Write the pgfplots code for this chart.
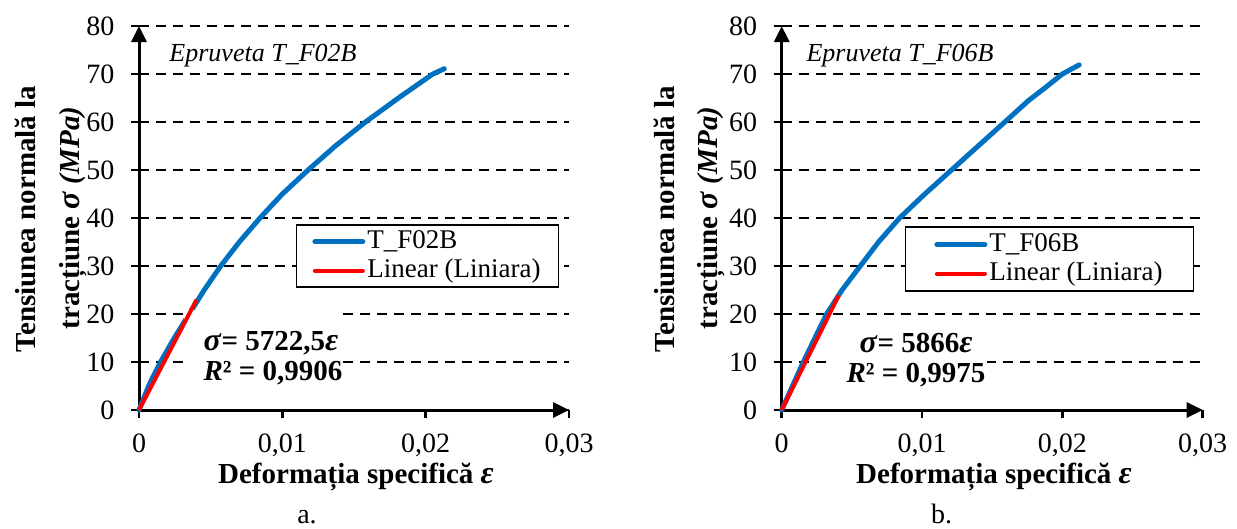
\documentclass[border=0pt]{standalone}
\usepackage{fontspec}
\setmainfont{Liberation Serif}
\usepackage{pgfplots}
\pgfplotsset{compat=1.18}
\usetikzlibrary{arrows.meta}
\definecolor{xblue}{RGB}{0,112,192}
\definecolor{xred}{RGB}{255,0,0}
\newcommand{\gs}{\fontsize{32}{32}\selectfont}
\pgfplotsset{
 myaxis/.style={
  scale only axis, axis lines=left, enlargelimits=false, clip=false,
  xmin=0,xmax=0.03,ymin=0,ymax=80,
  xtick={0,0.01,0.02,0.03}, xticklabels={0,{0,01},{0,02},{0,03}},
  scaled x ticks=false,
  ytick={0,10,...,80},
  axis line style={line width=3pt, -{Triangle[length=16pt,width=15pt]}},
  tick style={line width=2.5pt, black},
  tick align=outside, major tick length=8pt,
  ymajorgrids, grid style={line width=2pt, black, dash pattern=on 10pt off 7pt},
  ticklabel style={font=\fontsize{28}{28}\selectfont},
  x tick label style={yshift=-12pt},
  y tick label style={xshift=-13pt},
  /pgf/number format/assume math mode=true,
  legend style={draw=black, line width=1.5pt, fill=white, font=\fontsize{27}{30}\selectfont,
     row sep=0pt, inner ysep=2pt, inner xsep=16pt,
     nodes={inner sep=2pt, text height=19pt, text depth=6pt}},
  legend cell align=left,
  legend image code/.code={\draw[#1, line cap=round] (2pt,0pt) -- (50pt,0pt);},
 }
}
\begin{document}
\begin{tikzpicture}
\useasboundingbox (0pt,0pt) rectangle (1237pt,-529pt);
% ---------- panel a ----------
\begin{axis}[myaxis, at={(139pt,-410pt)}, anchor=south west, width=430pt, height=384pt,
  legend style={at={(axis cs:0.02932,38.69)}, anchor=north east}]
\addplot[xblue, line width=5pt, line join=round, line cap=round] coordinates {
(0,0) (0.0007,5.2) (0.0015,10) (0.0025,15.2) (0.0035,20) (0.00455,25) (0.0057,30)
(0.0070,35) (0.00844,40) (0.0100,45) (0.0118,50) (0.0137,55) (0.0158,60)
(0.0181,65) (0.0193,67.5) (0.0205,70) (0.0213,71.1)};
\addlegendentry{T\_F02B}
\node[fill=white, inner sep=0pt, minimum width=156pt, minimum height=82pt] at (axis cs:0.00858,12.29) {};
\addplot[xred, line width=4pt] coordinates {(0,0) (0.00402,23.0)};
\addlegendentry{Linear (Liniara)}
\node[anchor=west, align=left, font=\bfseries\fontsize{29}{30}\selectfont] at (axis cs:0.004256,10.83)
  {{\gs\textit{σ}}= 5722,5{\gs\textit{ε}}\\\textit{R}² = 0,9906};
\node[anchor=base west, font=\itshape\fontsize{26}{26}\selectfont] at (axis cs:0.00188,72.7) {Epruveta T\_F02B};
\end{axis}
% ---------- panel b ----------
\begin{axis}[myaxis, at={(781.7pt,-410pt)}, anchor=south west, width=421pt, height=384pt,
  legend style={at={(axis cs:0.0294,38.25)}, anchor=north east, inner xsep=29pt, inner ysep=3pt}]
\node[fill=white, inner sep=0pt, minimum width=160pt, minimum height=70pt] at (axis cs:0.00894,11.04) {};
\addplot[xblue, line width=5pt, line join=round, line cap=round] coordinates {
(0,0) (0.0008,5.2) (0.00154,10) (0.0024,15.2) (0.0032,20) (0.0043,25) (0.0056,30)
(0.0069,35) (0.0084,40) (0.0102,45) (0.0121,50) (0.0140,55) (0.0159,60)
(0.0176,64.5) (0.0188,67.2) (0.0200,70) (0.0212,71.9)};
\addlegendentry{T\_F06B}
\addplot[xred, line width=4pt] coordinates {(0,0) (0.00407,23.9)};
\addlegendentry{Linear (Liniara)}
\node[align=center, font=\bfseries\fontsize{29}{30}\selectfont] at (axis cs:0.00957,10.42)
  {{\gs\textit{σ}}= 5866{\gs\textit{ε}}\\\textit{R}² = 0,9975};
\node[anchor=base west, font=\itshape\fontsize{26}{26}\selectfont] at (axis cs:0.00152,72.7) {Epruveta T\_F06B};
\end{axis}
% ---------- outer labels ----------
\node[rotate=90, anchor=base, font=\bfseries\fontsize{29}{29}\selectfont] at (35pt,-219pt) {Tensiunea normală la};
\node[rotate=90, anchor=base, font=\bfseries\fontsize{29}{29}\selectfont] at (79pt,-218pt) {tracțiune {\gs\textit{σ}} \textit{(MPa)}};
\node[rotate=90, anchor=base, font=\bfseries\fontsize{29}{29}\selectfont] at (674pt,-219pt) {Tensiunea normală la};
\node[rotate=90, anchor=base, font=\bfseries\fontsize{29}{29}\selectfont] at (717pt,-218pt) {tracțiune {\gs\textit{σ}} \textit{(MPa)}};
\node[anchor=base, font=\bfseries\fontsize{29}{29}\selectfont] at (356pt,-483pt) {Deformația specifică {\gs\textit{ε}}};
\node[anchor=base, font=\bfseries\fontsize{29}{29}\selectfont] at (994pt,-483pt) {Deformația specifică {\gs\textit{ε}}};
\node[anchor=base, font=\fontsize{28}{28}\selectfont] at (307pt,-523pt) {a.};
\node[anchor=base, font=\fontsize{28}{28}\selectfont] at (941.5pt,-523pt) {b.};
\end{tikzpicture}
\end{document}
